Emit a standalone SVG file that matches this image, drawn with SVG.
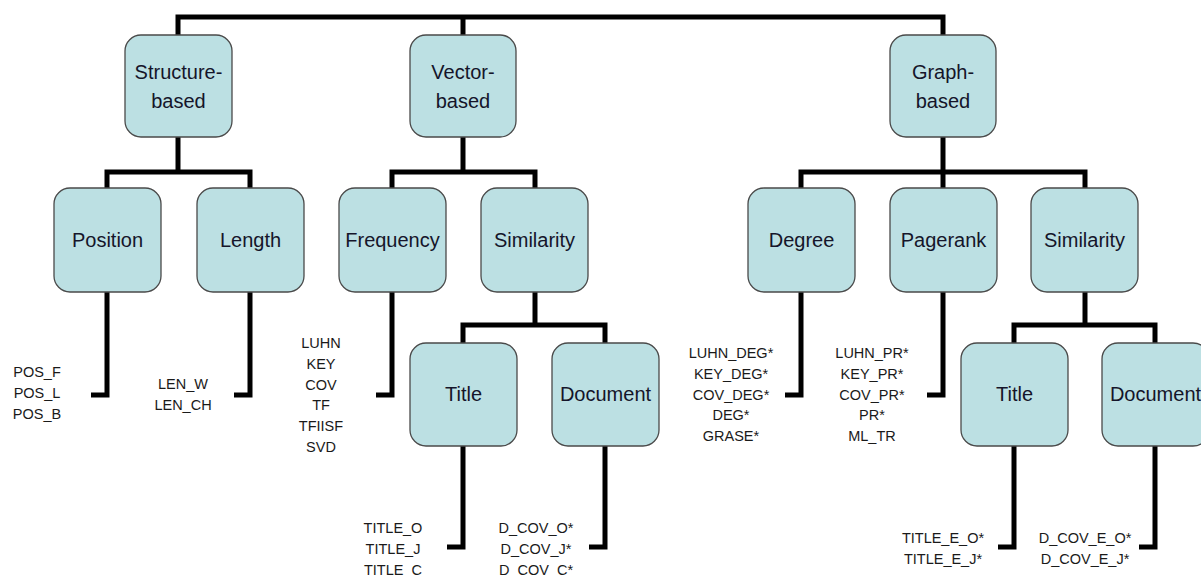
<svg xmlns="http://www.w3.org/2000/svg" width="1201" height="576" viewBox="0 0 1201 576">
<style>
.box{fill:#bce0e3;stroke:#4a4a4a;stroke-width:1.3}
.nt{font-family:"Liberation Sans",Arial,sans-serif;font-size:20px;fill:#15152a;text-anchor:middle}
.lb{font-family:"Liberation Sans",Arial,sans-serif;font-size:14.5px;fill:#1a1a1a;text-anchor:middle}
.c{fill:none;stroke:#000;stroke-width:5;stroke-linecap:butt;stroke-linejoin:miter}
</style>
<rect width="1201" height="576" fill="#fff"/>
<g id="connectors">
<path class="c" d="M178,35 V17 H943 V35"/>
<path class="c" d="M463,17 V35"/>
<path class="c" d="M178,137 V172"/>
<path class="c" d="M107,188 V172 H250 V188"/>
<path class="c" d="M463,137 V172"/>
<path class="c" d="M392,188 V172 H535 V188"/>
<path class="c" d="M943,137 V172"/>
<path class="c" d="M801,188 V172 H1085 V188"/>
<path class="c" d="M943,172 V188"/>
<path class="c" d="M107,292 V395 H91"/>
<path class="c" d="M250,292 V395 H234"/>
<path class="c" d="M392,292 V395 H376"/>
<path class="c" d="M535,292 V325"/>
<path class="c" d="M463,343 V325 H605 V343"/>
<path class="c" d="M463,446 V547 H447"/>
<path class="c" d="M605,446 V547 H589"/>
<path class="c" d="M801,292 V395 H785"/>
<path class="c" d="M943,292 V395 H927"/>
<path class="c" d="M1085,292 V325"/>
<path class="c" d="M1014,343 V325 H1155 V343"/>
<path class="c" d="M1014,446 V547 H998"/>
<path class="c" d="M1155,446 V547 H1139"/>
</g>
<g id="structure-based"><rect class="box" x="125" y="35" width="107" height="102" rx="16"/><text class="nt" x="178.5" y="79">Structure-</text><text class="nt" x="178.5" y="108">based</text></g>
<g id="vector-based"><rect class="box" x="410" y="35" width="106" height="102" rx="16"/><text class="nt" x="463" y="79">Vector-</text><text class="nt" x="463" y="108">based</text></g>
<g id="graph-based"><rect class="box" x="890" y="35" width="106" height="102" rx="16"/><text class="nt" x="943" y="79">Graph-</text><text class="nt" x="943" y="108">based</text></g>
<g id="position"><rect class="box" x="54" y="188" width="107" height="104" rx="16"/><text class="nt" x="107.5" y="247">Position</text></g>
<g id="length"><rect class="box" x="197" y="188" width="107" height="104" rx="16"/><text class="nt" x="250.5" y="247">Length</text></g>
<g id="frequency"><rect class="box" x="339" y="188" width="107" height="104" rx="16"/><text class="nt" x="392.5" y="247">Frequency</text></g>
<g id="similarity-v"><rect class="box" x="481" y="188" width="107" height="104" rx="16"/><text class="nt" x="534.5" y="247">Similarity</text></g>
<g id="degree"><rect class="box" x="748" y="188" width="107" height="104" rx="16"/><text class="nt" x="801.5" y="247">Degree</text></g>
<g id="pagerank"><rect class="box" x="890" y="188" width="107" height="104" rx="16"/><text class="nt" x="943.5" y="247">Pagerank</text></g>
<g id="similarity-g"><rect class="box" x="1031" y="188" width="107" height="104" rx="16"/><text class="nt" x="1084.5" y="247">Similarity</text></g>
<g id="title-v"><rect class="box" x="410" y="343" width="107" height="103" rx="16"/><text class="nt" x="463.5" y="401">Title</text></g>
<g id="document-v"><rect class="box" x="552" y="343" width="107" height="103" rx="16"/><text class="nt" x="605.5" y="401">Document</text></g>
<g id="title-g"><rect class="box" x="961" y="343" width="107" height="103" rx="16"/><text class="nt" x="1014.5" y="401">Title</text></g>
<g id="document-g"><rect class="box" x="1102" y="343" width="107" height="103" rx="16"/><text class="nt" x="1155.5" y="401">Document</text></g>
<g id="labels-position"><text class="lb" x="37" y="377">POS_F</text><text class="lb" x="37" y="398">POS_L</text><text class="lb" x="37" y="419">POS_B</text></g>
<g id="labels-length"><text class="lb" x="183" y="389">LEN_W</text><text class="lb" x="183" y="410">LEN_CH</text></g>
<g id="labels-frequency"><text class="lb" x="321" y="348">LUHN</text><text class="lb" x="321" y="369">KEY</text><text class="lb" x="321" y="390">COV</text><text class="lb" x="321" y="410">TF</text><text class="lb" x="321" y="431">TFIISF</text><text class="lb" x="321" y="452">SVD</text></g>
<g id="labels-title-v"><text class="lb" x="393" y="533">TITLE_O</text><text class="lb" x="393" y="554">TITLE_J</text><text class="lb" x="393" y="575">TITLE_C</text></g>
<g id="labels-document-v"><text class="lb" x="536" y="533">D_COV_O*</text><text class="lb" x="536" y="554">D_COV_J*</text><text class="lb" x="536" y="575">D_COV_C*</text></g>
<g id="labels-degree"><text class="lb" x="731" y="358">LUHN_DEG*</text><text class="lb" x="731" y="379">KEY_DEG*</text><text class="lb" x="731" y="400">COV_DEG*</text><text class="lb" x="731" y="420">DEG*</text><text class="lb" x="731" y="441">GRASE*</text></g>
<g id="labels-pagerank"><text class="lb" x="872" y="358">LUHN_PR*</text><text class="lb" x="872" y="379">KEY_PR*</text><text class="lb" x="872" y="400">COV_PR*</text><text class="lb" x="872" y="420">PR*</text><text class="lb" x="872" y="441">ML_TR</text></g>
<g id="labels-title-g"><text class="lb" x="943" y="543">TITLE_E_O*</text><text class="lb" x="943" y="564">TITLE_E_J*</text></g>
<g id="labels-document-g"><text class="lb" x="1085" y="543">D_COV_E_O*</text><text class="lb" x="1085" y="564">D_COV_E_J*</text></g>
</svg>
